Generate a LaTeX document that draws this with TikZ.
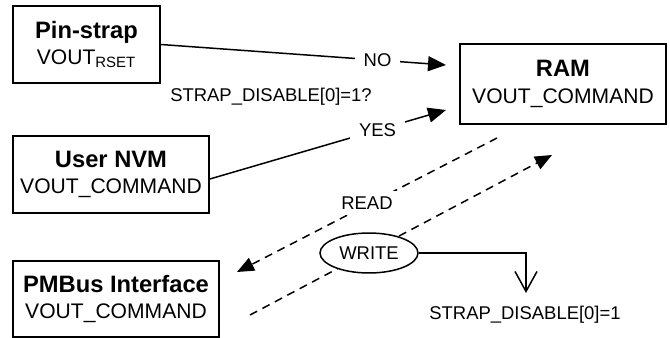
\documentclass[tikz,border=0pt]{standalone}
\usepackage{fontspec}
\setmainfont{Liberation Sans}
\usetikzlibrary{arrows.meta,shapes.geometric}
\newcommand{\boxhead}[1]{{\fontsize{13.5}{15}\selectfont\bfseries #1}}
\tikzset{
  regbox/.style={draw, line width=1pt, align=center, inner sep=0pt,
                 minimum height=1.54cm, font=\fontsize{12}{15}\selectfont},
  tag/.style={font=\fontsize{10.5}{12}\selectfont, inner sep=1pt},
  choice/.style={-{Triangle[length=3.6mm,width=3mm]}, line width=0.85pt},
  busline/.style={-{Triangle[length=3.4mm,width=2.8mm]}, line width=0.85pt,
                  dash pattern=on 4.6pt off 3.4pt},
  opbubble/.style={ellipse, draw, line width=0.85pt, fill=white,
                   minimum width=1.96cm, minimum height=0.8cm, inner sep=0pt,
                   font=\fontsize{10.5}{12}\selectfont},
}
\begin{document}
\begin{tikzpicture}[x=0.02cm, y=-0.02cm]
    \useasboundingbox (0,0) rectangle (670,338);
    % register boxes
    \node[regbox, minimum width=2.94cm] (pin) at (86.5,44.5) {\boxhead{Pin-strap}\\VOUT\textsubscript{\fontsize{8.5}{10}\selectfont RSET}};
    \node[regbox, minimum width=3.92cm] (nvm) at (111,174.5) {\boxhead{User NVM}\\VOUT\_COMMAND};
    \node[regbox, minimum width=4.12cm, minimum height=1.52cm] (pmb) at (116,299) {\boxhead{PMBus Interface}\\VOUT\_COMMAND};
    \node[regbox, minimum width=4.12cm, minimum height=1.6cm] (ram) at (563,84) {\boxhead{RAM}\\VOUT\_COMMAND};
    % arrow ends
    \coordinate (noend) at (446,65);
    \coordinate (yesend) at (446,110);
    \coordinate (rdstart) at (497,138);
    \coordinate (rdend) at (237,272);
    \coordinate (wrstart) at (250,315);
    \coordinate (wrend) at (552,155);
    \coordinate (setend) at (526,293);
    % strap selection
    \node[tag] (cond) at (271,97) {STRAP\_DISABLE[0]=1?};
    \draw[choice] (pin.east) -- node[tag, pos=0.76, fill=white, inner sep=5pt] {NO} (noend);
    \draw[choice] ([yshift=-0.09cm]nvm.east) -- node[tag, pos=0.71, fill=white, inner sep=5pt] {YES} (yesend);
    % bus access
    \draw[busline] (rdstart) -- (rdend);
    \node[tag, fill=white, inner sep=3pt] (rd) at (367,203) {READ};
    \draw[busline] (wrstart) -- (wrend);
    \node[opbubble] (wr) at (369,253) {WRITE};
    \node[tag] (strap) at (525,315) {STRAP\_DISABLE[0]=1};
    \draw[-{Straight Barb[length=4mm,width=4.4mm]}, line width=0.85pt] (wr.east) -| (setend);
\end{tikzpicture}
\end{document}
